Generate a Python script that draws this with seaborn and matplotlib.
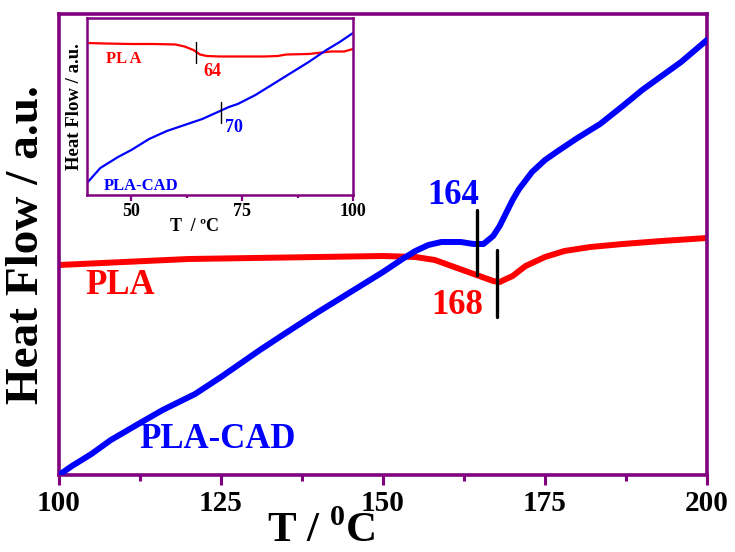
import matplotlib
matplotlib.use("Agg")
import matplotlib.pyplot as plt
import seaborn as sns
import pandas as pd
from matplotlib.ticker import MultipleLocator

# ---- main data (T in degC, heat flow in a.u.) ----
pla_T = [100, 110, 120, 130, 140, 150, 155, 158, 161, 164, 167, 168, 170, 172, 175, 178, 182, 187, 193, 200]
pla_hf = [210, 213, 216, 217, 218, 219, 218, 215, 208, 201, 194, 193, 199, 209, 218, 224, 228, 231, 234, 237]
cad_T = [100, 102, 105, 108, 112.5, 116, 121, 125, 131, 135, 140, 145, 150, 153, 155, 157, 159, 162, 164,
         165.5, 167, 168, 170, 171, 173, 175, 177, 180, 183.5, 187, 190, 193, 196, 200]
cad_hf = [0, 9, 21, 35, 52, 65, 81, 98, 125, 142, 163, 183, 203, 216, 224, 230, 233, 233, 231,
          231, 239, 249, 275, 286, 303, 315, 324, 337, 351, 369, 385, 399, 413, 435]

# ---- inset data ----
ipla_T = [40, 44, 50, 55, 60, 62, 64, 65.5, 67, 70, 75, 80, 83, 85, 90, 95, 98, 100]
ipla_hf = [152, 151.5, 151, 151, 150.5, 148.5, 145, 140.5, 139, 138.5, 138.5, 138.5, 139, 140.5, 141, 143.5, 143.5, 146]
icad_T = [40, 43, 47, 50, 54, 58, 62, 66, 70, 72, 74, 78, 82, 86, 90, 94, 97, 100]
icad_hf = [12, 27, 38, 45, 56, 64, 70, 76, 84, 88, 91, 100, 111, 122, 133, 145, 153, 162]

x_ticks = [100, 125, 150, 175, 200]
inset_ticks = [50, 75, 100]
labels_main = ["PLA", "PLA-CAD"]
tg_main = [168, 164]
tg_inset = [64, 70]

RED = "#ff0000"
BLUE = "#0000ff"
PURPLE = "#800080"

sns.set_theme(style="white")
plt.rcParams["font.family"] = ["Liberation Serif", "DejaVu Serif"]
plt.rcParams["font.weight"] = "bold"
plt.rcParams["text.color"] = "black"
plt.rcParams["axes.labelcolor"] = "black"
plt.rcParams["xtick.labelcolor"] = "black"
plt.rcParams["mathtext.fontset"] = "custom"
plt.rcParams["mathtext.rm"] = "Liberation Serif:bold"
plt.rcParams["mathtext.bf"] = "Liberation Serif:bold"

fig = plt.figure(figsize=(7.35, 5.52), dpi=100)
ax = fig.add_axes([59/735, 1-475/552, (707-59)/735, (475-14)/552])

df_pla = pd.DataFrame({"T": pla_T, "hf": pla_hf})
df_cad = pd.DataFrame({"T": cad_T, "hf": cad_hf})
sns.lineplot(data=df_cad, x="T", y="hf", ax=ax, color=BLUE, lw=4.3, zorder=3)
sns.lineplot(data=df_pla, x="T", y="hf", ax=ax, color=RED, lw=4.3, zorder=2)

ax.set_xlim(100, 200)
ax.set_ylim(0, 461)
ax.set_yticks([])
ax.set_xticks(x_ticks)
ax.xaxis.set_minor_locator(MultipleLocator(12.5))
ax.tick_params(axis="x", which="major", direction="out", length=7, width=2.2, color=PURPLE,
               labelsize=21, pad=4, bottom=True, labelcolor="black")
ax.tick_params(axis="x", which="minor", direction="out", length=4, width=2.2, color=PURPLE, bottom=True)
for s in ax.spines.values():
    s.set_color(PURPLE)
    s.set_linewidth(2.6)
for lab in ax.get_xticklabels():
    lab.set_fontweight("bold")
ax.set_xlabel(r"T / $^{0}$C", fontsize=31, fontweight="bold", color="black")
ax.xaxis.label.set_va("baseline")
ax.xaxis.set_label_coords(0.404, -0.145)
ax.set_ylabel("Heat Flow / a.u.", fontsize=34, fontweight="bold", labelpad=8, color="black")

# Tg markers main
ax.plot([164.5, 164.5], [200, 265], color="black", lw=2.4, zorder=4)
ax.plot([167.6, 167.6], [158, 225], color="black", lw=2.4, zorder=4)
ax.text(160.8, 280, str(tg_main[1]), color=BLUE, fontsize=25, fontweight="bold", ha="center", va="center")
ax.text(161.4, 170, str(tg_main[0]), color=RED, fontsize=25, fontweight="bold", ha="center", va="center")
ax.text(109.4, 190, labels_main[0], color=RED, fontsize=25, fontweight="bold", ha="center", va="center")
ax.text(124.5, 35, labels_main[1], color=BLUE, fontsize=25, fontweight="bold", ha="center", va="center")

# ---- inset ----
ins = fig.add_axes([87/735, 1-195/552, (353-87)/735, (195-18)/552])
df_ipla = pd.DataFrame({"T": ipla_T, "hf": ipla_hf})
df_icad = pd.DataFrame({"T": icad_T, "hf": icad_hf})
sns.lineplot(data=df_ipla, x="T", y="hf", ax=ins, color=RED, lw=1.6)
sns.lineplot(data=df_icad, x="T", y="hf", ax=ins, color=BLUE, lw=1.6)
ins.set_xlim(40, 100)
ins.set_ylim(0, 177)
ins.set_yticks([])
ins.set_xticks(inset_ticks)
ins.xaxis.set_minor_locator(MultipleLocator(12.5))
ins.tick_params(axis="x", which="major", direction="out", length=4, width=1.6, color=PURPLE,
                labelsize=13, pad=2, bottom=True, labelcolor="black")
ins.tick_params(axis="x", which="minor", direction="out", length=2.5, width=1.6, color=PURPLE, bottom=True)
for s in ins.spines.values():
    s.set_color(PURPLE)
    s.set_linewidth(1.8)
for lab in ins.get_xticklabels():
    lab.set_fontweight("bold")
ins.set_xlabel("T  / ºC", fontsize=13, fontweight="bold", color="black")
ins.xaxis.set_label_coords(0.406, -0.13)
ins.set_ylabel("Heat Flow / a.u.", fontsize=13.5, fontweight="bold", labelpad=3, color="black")
ins.plot([64.5, 64.5], [132, 153], color="black", lw=1.0)
ins.plot([70.2, 70.2], [72, 93], color="black", lw=1.0)
ins.text(68.2, 123, str(tg_inset[0]), color=RED, fontsize=13, fontweight="bold", ha="center", va="center")
ins.text(73.2, 67, str(tg_inset[1]), color=BLUE, fontsize=13, fontweight="bold", ha="center", va="center")
ins.text(48.4, 136, "PL A", color=RED, fontsize=12, fontweight="bold", ha="center", va="center")
ins.text(52.2, 9, "PLA-CAD", color=BLUE, fontsize=12, fontweight="bold", ha="center", va="center")

fig.savefig("out.png", dpi=100)
